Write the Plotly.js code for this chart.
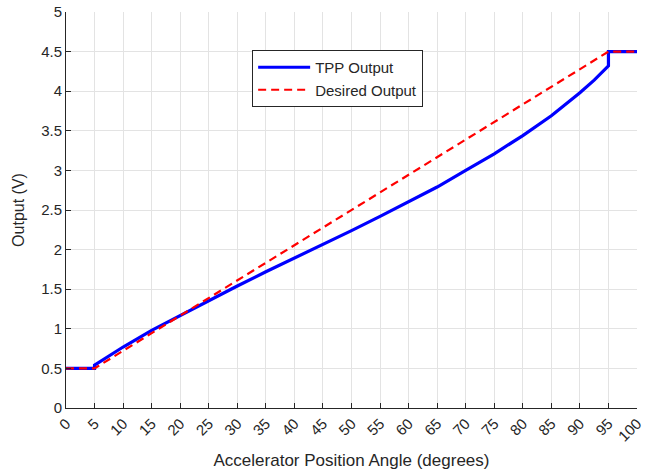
<!DOCTYPE html>
<html>
<head>
<meta charset="utf-8">
<script src="https://cdn.plot.ly/plotly-3.0.1.min.js"></script>
<style>html,body{margin:0;padding:0;background:#fff;}#chart{width:645px;height:475px;}</style>
</head>
<body>
<div id="chart"></div>
<script>
// Accelerator position angle (degrees)
const tppAngle = [0, 5, 5, 10, 15, 20, 25, 30, 35, 40, 45, 50, 55, 60, 65, 70, 75, 80, 85, 90, 92.5, 95, 95, 100];
const tppOutput = [0.5, 0.5, 0.54, 0.77, 0.98, 1.17, 1.36, 1.54, 1.72, 1.89, 2.06, 2.24, 2.42, 2.60, 2.79, 3.00, 3.21, 3.44, 3.69, 3.98, 4.14, 4.32, 4.5, 4.5];
const desiredAngle = [0, 5, 95, 100];
const desiredOutput = [0.5, 0.5, 4.5, 4.5];
const xTicks = [0,5,10,15,20,25,30,35,40,45,50,55,60,65,70,75,80,85,90,95,100];
const yTicks = [0,0.5,1,1.5,2,2.5,3,3.5,4,4.5,5];

const font = {family: 'Liberation Sans, Arial, sans-serif', color: '#262626'};
const traces = [
  {x: tppAngle, y: tppOutput, type: 'scatter', mode: 'lines', name: 'TPP Output',
   line: {color: '#0000ff', width: 3.2}},
  {x: desiredAngle, y: desiredOutput, type: 'scatter', mode: 'lines', name: 'Desired Output',
   line: {color: '#ff0000', width: 2.2, dash: '8px,5px'}}
];
const layout = {
  width: 645, height: 475,
  margin: {l: 66, r: 8, t: 12, b: 67},
  paper_bgcolor: '#fff', plot_bgcolor: '#fff',
  font: Object.assign({size: 15}, font),
  showlegend: true,
  legend: {x: 0.326, y: 0.904, xanchor: 'left', yanchor: 'top',
    bgcolor: '#fff', bordercolor: '#262626', borderwidth: 1,
    font: Object.assign({size: 15}, font), itemwidth: 52, tracegroupgap: 0},
  xaxis: {range: [0, 100], tickvals: xTicks, ticktext: xTicks.map(String), tickangle: -45,
    showgrid: true, gridcolor: '#e3e3e3', gridwidth: 1,
    showline: true, linecolor: '#262626', linewidth: 1,
    ticks: 'inside', ticklen: 5, tickcolor: '#262626', zeroline: false,
    tickfont: Object.assign({size: 15}, font),
    title: {text: 'Accelerator Position Angle (degrees)', font: Object.assign({size: 17}, font), standoff: 10}},
  yaxis: {range: [0, 5], tickvals: yTicks, ticktext: yTicks.map(String),
    showgrid: true, gridcolor: '#e3e3e3', gridwidth: 1,
    showline: true, linecolor: '#262626', linewidth: 1,
    ticks: 'inside', ticklen: 5, tickcolor: '#262626', zeroline: false,
    tickfont: Object.assign({size: 15}, font),
    title: {text: 'Output (V)', font: Object.assign({size: 16}, font), standoff: 12}}
};
Plotly.newPlot('chart', traces, layout, {staticPlot: true, displayModeBar: false});
</script>
</body>
</html>
